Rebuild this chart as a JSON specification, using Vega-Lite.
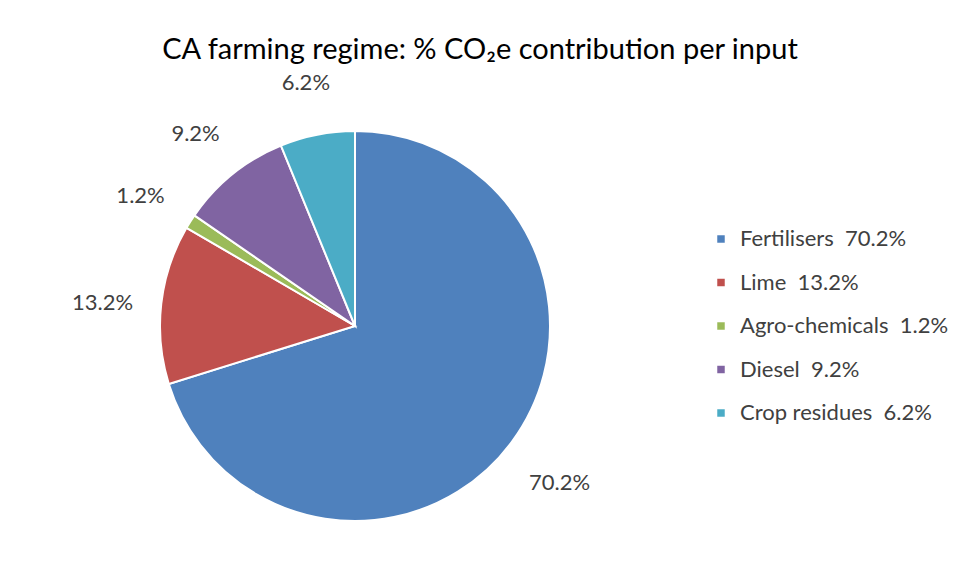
{
  "$schema": "https://vega.github.io/schema/vega-lite/v6.json",
  "width": 710,
  "height": 492,
  "autosize": {"type": "none"},
  "padding": {"left": 0, "top": 80, "right": 247, "bottom": 9},
  "background": "white",
  "config": {"view": {"stroke": null}, "font": "Lato"},
  "title": {
    "text": "CA farming regime: % CO₂e contribution per input",
    "fontSize": 29,
    "fontWeight": "normal",
    "color": "#000000",
    "font": "Lato",
    "anchor": "middle",
    "frame": "group",
    "baseline": "alphabetic",
    "offset": -16,
    "dx": 125
  },
  "data": {
    "values": [
      {"input": "Fertilisers", "value": 70.2, "label": "70.2%", "legend": "Fertilisers\u00a0\u00a070.2%", "order": 1},
      {"input": "Lime", "value": 13.2, "label": "13.2%", "legend": "Lime\u00a0\u00a013.2%", "order": 2},
      {"input": "Agro-chemicals", "value": 1.2, "label": "1.2%", "legend": "Agro-chemicals\u00a0\u00a01.2%", "order": 3},
      {"input": "Diesel", "value": 9.2, "label": "9.2%", "legend": "Diesel\u00a0\u00a09.2%", "order": 4},
      {"input": "Crop residues", "value": 6.2, "label": "6.2%", "legend": "Crop residues\u00a0\u00a06.2%", "order": 5}
    ]
  },
  "encoding": {
    "theta": {"field": "value", "type": "quantitative", "stack": true},
    "order": {"field": "order", "type": "quantitative"}
  },
  "layer": [
    {
      "mark": {"type": "arc", "outerRadius": 195, "stroke": "white", "strokeWidth": 2},
      "encoding": {
        "color": {
          "field": "legend",
          "type": "nominal",
          "sort": {"field": "order"},
          "scale": {
            "range": ["#4F81BD", "#C0504D", "#9BBB59", "#8064A2", "#4BACC6"]
          },
          "legend": {
            "title": null,
            "orient": "none",
            "legendX": 710,
            "legendY": 148,
            "symbolType": "square",
            "symbolSize": 56,
            "symbolStrokeWidth": 0,
            "labelFontSize": 22,
            "labelFont": "Lato",
            "labelColor": "#404040",
            "labelLimit": 300,
            "rowPadding": 21.5,
            "labelOffset": 8
          }
        }
      }
    },
    {
      "mark": {"type": "text", "radius": 254, "dy": 6, "fontSize": 22, "color": "#404040", "font": "Lato", "align": "center", "baseline": "middle"},
      "encoding": {
        "text": {"field": "label", "type": "nominal"}
      }
    }
  ]
}
